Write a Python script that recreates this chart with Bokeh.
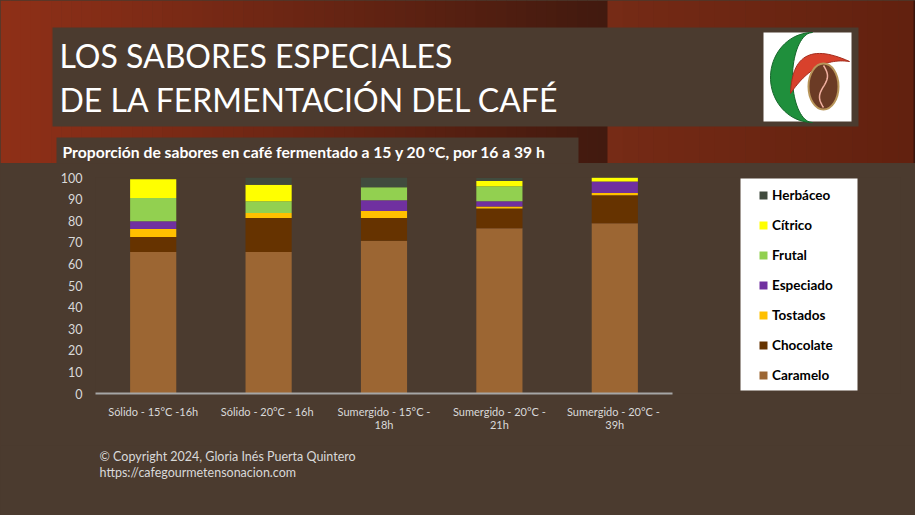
import numpy as np
from bokeh.plotting import figure
from bokeh.models import Range1d, Legend, LegendItem, FixedTicker, BoxAnnotation
from bokeh.layouts import column
from bokeh.core.properties import value
from bokeh.embed import file_html
from bokeh.resources import INLINE

# ---------------- data ----------------
categories = ["Sólido - 15°C -16h", "Sólido -  20°C - 16h", "Sumergido - 15°C -\n18h",
              "Sumergido - 20°C -\n21h", "Sumergido - 20°C  -\n39h"]
series_names = ["Caramelo", "Chocolate", "Tostados", "Especiado", "Frutal", "Cítrico", "Herbáceo"]
caramelo = [65.5, 65.5, 70.7, 76.5, 78.8]
chocolate = [7.0, 15.8, 10.5, 9.1, 13.0]
tostados = [3.6, 2.3, 3.3, 1.0, 1.0]
especiado = [3.6, 0.0, 5.0, 2.4, 5.3]
frutal = [10.8, 5.4, 6.0, 7.0, 0.0]
citrico = [8.7, 7.7, 0.0, 2.4, 2.3]
herbaceo = [0.0, 3.6, 4.8, 1.4, 0.0]
y_ticks = [0, 10, 20, 30, 40, 50, 60, 70, 80, 90, 100]

title_lines = ["LOS SABORES ESPECIALES", "DE LA FERMENTACIÓN DEL CAFÉ"]
subtitle = "Proporción de sabores en café fermentado a 15 y 20 °C, por 16 a 39 h"
footer_lines = ["© Copyright  2024, Gloria Inés Puerta Quintero", "https://cafegourmetensonacion.com"]

colors = ["#9c6633", "#663300", "#ffc000", "#7030a0", "#92d050", "#ffff00", "#414b3e"]
BG = "#4b3b2f"
FONT = "Lato"
W = 915

def lerp_col(c1, c2, t):
    a = np.array([int(c1[i:i + 2], 16) for i in (1, 3, 5)])
    b = np.array([int(c2[i:i + 2], 16) for i in (1, 3, 5)])
    c = (a + (b - a) * t).astype(int)
    return "#%02x%02x%02x" % tuple(c)

def plain(fig):
    fig.axis.visible = False
    fig.grid.visible = False
    fig.outline_line_color = None
    fig.background_fill_color = BG
    fig.border_fill_color = BG

# ---------------- header ----------------
head = figure(width=W, height=163, x_range=Range1d(0, W), y_range=Range1d(163, 0),
              output_backend="svg", toolbar_location=None, min_border=0, frame_align=False)
plain(head)

n = 60
edges = np.linspace(0, 607, n + 1)
head.quad(left=edges[:-1], right=edges[1:] + 0.5, top=0, bottom=163,
          fill_color=[lerp_col("#8e3018", "#421a0f", (i / (n - 1)) ** 1.1) for i in range(n)],
          line_color=None)
edges2 = np.linspace(607, 913, 21)
head.quad(left=edges2[:-1], right=edges2[1:] + 0.5, top=0, bottom=163,
          fill_color=[lerp_col("#762b16", "#62210f", i / 19) for i in range(20)],
          line_color=None)
head.quad(left=913, right=915, top=0, bottom=163, fill_color="#3a150c", line_color=None)

head.quad(left=52, right=858, top=27, bottom=126, fill_color=BG, line_color=None)
head.text(x=[59, 59], y=[55, 99], text=title_lines, text_color="white",
          text_font=value(FONT), text_font_size="32px", text_baseline="middle")

head.quad(left=56, right=578, top=137, bottom=163, fill_color=BG, line_color=None)
head.text(x=[62], y=[151], text=[subtitle], text_color="white", text_font=value(FONT),
          text_font_size="15.7px", text_font_style="bold", text_baseline="middle")

# logo
head.quad(left=763, right=851, top=32, bottom=121, fill_color="white", line_color=None)
phi = np.linspace(-np.pi / 2, np.pi / 2, 40)
ox = 812 - 42 * np.cos(phi)
oy = 77 + 45 * np.sin(phi)
ix = 812 - 20 * np.cos(phi[::-1])
iy = 77 + 45 * np.sin(phi[::-1])
head.patch(x=np.concatenate([ox, ix]), y=np.concatenate([oy, iy]), fill_color="#1f8f3c",
           line_color="#16662b", line_width=1)
t = np.linspace(0, 1, 30)
ux = (1 - t) ** 2 * 790 + 2 * t * (1 - t) * 792 + t ** 2 * 849
uy = (1 - t) ** 2 * 93 + 2 * t * (1 - t) * 35 + t ** 2 * 61
lx = (1 - t) ** 2 * 849 + 2 * t * (1 - t) * 815 + t ** 2 * 790
ly = (1 - t) ** 2 * 61 + 2 * t * (1 - t) * 56 + t ** 2 * 93
head.patch(x=np.concatenate([ux, lx]), y=np.concatenate([uy, ly]), fill_color="#d8412c",
           line_color="#a32e1e", line_width=1)
head.ellipse(x=[823], y=[86], width=[30], height=[46], fill_color="#6b3b25",
             line_color="#b8955a", line_width=2)
sy = np.linspace(65, 107, 30)
sx = 823 + 4 * np.sin((sy - 65) / 42 * 2 * np.pi)
head.line(x=sx, y=sy, line_color="#f0b0a0", line_width=1.5)

# ---------------- body (chart) ----------------
ML, MR, MT, MB = 95, 15, 14, 52
FRAME_H = 216
frame_w = W - ML - MR
slot_px = 115.4
x_pos = list(range(len(categories)))
body = figure(width=W, height=MT + FRAME_H + MB,
              x_range=Range1d(-0.5, -0.5 + frame_w / slot_px), y_range=Range1d(0, 100),
              output_backend="svg", toolbar_location=None, frame_align=False,
              min_border_left=ML, min_border_right=MR, min_border_top=MT, min_border_bottom=MB)
body.background_fill_color = BG
body.border_fill_color = BG
body.outline_line_color = None
body.grid.visible = False

data = {"x": x_pos, "Caramelo": caramelo, "Chocolate": chocolate, "Tostados": tostados,
        "Especiado": especiado, "Frutal": frutal, "Cítrico": citrico, "Herbáceo": herbaceo}
rs = body.vbar_stack(series_names, x="x", width=0.4, source=data, color=colors, line_color=None)

body.yaxis.ticker = FixedTicker(ticks=y_ticks)
body.yaxis.axis_line_color = None
body.yaxis.major_tick_line_color = None
body.yaxis.minor_tick_line_color = None
body.yaxis.major_label_text_color = "#d9d9d9"
body.yaxis.major_label_text_font = FONT
body.yaxis.major_label_text_font_size = "12.5px"
body.yaxis.major_label_standoff = 7

body.xaxis.ticker = FixedTicker(ticks=x_pos)
body.xaxis.major_label_overrides = {i: c for i, c in zip(x_pos, categories)}
body.xaxis.bounds = (-0.5, len(categories) - 0.5)
body.xaxis.axis_line_color = "#a6a6a6"
body.xaxis.axis_line_width = 2
body.xaxis.major_tick_line_color = None
body.xaxis.minor_tick_line_color = None
body.xaxis.major_label_text_color = "#d9d9d9"
body.xaxis.major_label_text_font = FONT
body.xaxis.major_label_text_font_size = "11px"
body.xaxis.major_label_text_line_height = 1.0
body.xaxis.major_label_standoff = 5

# legend box (frame-relative screen units)
body.add_layout(BoxAnnotation(left=740 - ML, right=857 - ML, bottom=3, top=215,
                              left_units="screen", right_units="screen",
                              bottom_units="screen", top_units="screen",
                              fill_color="white", fill_alpha=1, line_color=None))

items = [LegendItem(label=nm, renderers=[r]) for nm, r in zip(series_names, rs)][::-1]
legend = Legend(items=items, location=(758 - ML, 10), background_fill_alpha=0,
                border_line_color=None, padding=10,
                glyph_width=10, glyph_height=10, label_height=15, spacing=14,
                label_standoff=4, label_text_font=FONT,
                label_text_font_size="13.5px", label_text_font_style="bold",
                label_text_color="black", margin=0)
body.add_layout(legend)

# ---------------- footer ----------------
FOOT_H = 515 - 163 - (MT + FRAME_H + MB)
foot = figure(width=W, height=FOOT_H, x_range=Range1d(0, W), y_range=Range1d(FOOT_H, 0),
              output_backend="svg", toolbar_location=None, min_border=0, frame_align=False)
plain(foot)
foot.text(x=[99, 99], y=[11, 27], text=footer_lines, text_color="#d9d9d9",
          text_font=value(FONT), text_font_size="12.5px", text_baseline="middle")

layout = column(head, body, foot, spacing=0, styles={"background-color": BG})
open("out.html", "w").write(file_html(layout, INLINE))
